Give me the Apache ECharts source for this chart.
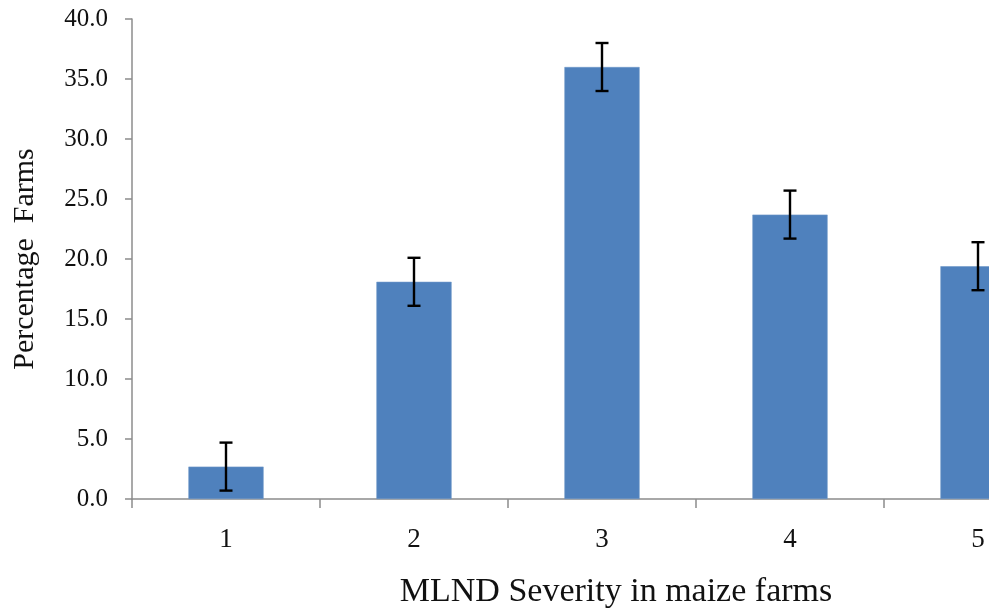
<!DOCTYPE html>
<html>
<head>
<meta charset="utf-8">
<script src="https://cdn.jsdelivr.net/npm/echarts@6/dist/echarts.min.js"></script>
<style>
  html, body { margin: 0; padding: 0; background: #fff; overflow: hidden; width: 989px; height: 615px; }
  /* the canvas is wider than the page, so the last bar is cut off at the right edge */
  #chart { width: 1080px; height: 615px; }
</style>
</head>
<body>
<div id="chart"></div>
<script>
// MLND severity classes and share of farms in each (%)
const categories = ['1', '2', '3', '4', '5'];
const percentFarms = [2.7, 18.1, 36.0, 23.7, 19.4];
const errorMargin = [2.0, 2.0, 2.0, 2.0, 2.0];
const yTicks = { min: 0, max: 40, interval: 5 };

const serif = '"Liberation Serif", "Times New Roman", serif';
const axisGray = '#8c8c8c';

// [categoryIndex, low, high] for the error whiskers
const errorData = percentFarms.map((v, i) => [i, v - errorMargin[i], v + errorMargin[i]]);

const chart = echarts.init(document.getElementById('chart'));
chart.setOption({
  animation: false,
  backgroundColor: '#ffffff',
  grid: { left: 132, top: 19, bottom: 116, right: 8, containLabel: false },
  xAxis: {
    type: 'category',
    data: categories,
    name: 'MLND Severity in maize farms',
    nameLocation: 'middle',
    nameGap: 76,
    nameTextStyle: { fontFamily: serif, fontSize: 34, color: '#111', padding: [0, 0, 0, 28] },
    axisLine: { lineStyle: { color: axisGray, width: 1.5 } },
    axisTick: { show: true, length: 9, lineStyle: { color: axisGray, width: 1.5 } },
    axisLabel: { fontFamily: serif, fontSize: 27, color: '#111', margin: 27 }
  },
  yAxis: {
    type: 'value',
    min: yTicks.min,
    max: yTicks.max,
    interval: yTicks.interval,
    name: 'Percentage  Farms',
    nameLocation: 'middle',
    nameGap: 92,
    nameRotate: 90,
    nameTextStyle: { fontFamily: serif, fontSize: 30, color: '#111' },
    axisLine: { show: true, lineStyle: { color: axisGray, width: 1.5 } },
    axisTick: { show: true, length: 7, lineStyle: { color: axisGray, width: 1.5 } },
    splitLine: { show: false },
    axisLabel: {
      fontFamily: serif, fontSize: 25, color: '#111', margin: 24,
      formatter: v => v.toFixed(1)
    }
  },
  series: [
    {
      type: 'bar',
      data: percentFarms,
      barWidth: '40%',
      itemStyle: { color: '#4F81BD', borderColor: '#6f97c8', borderWidth: 0.6 }
    },
    {
      type: 'custom',
      data: errorData,
      z: 10,
      renderItem: (params, api) => {
        const idx = api.value(0);
        const lo = api.coord([idx, api.value(1)]);
        const hi = api.coord([idx, api.value(2)]);
        const half = 6.5;
        const style = { stroke: '#000', lineWidth: 2.4 };
        return {
          type: 'group',
          children: [
            { type: 'line', shape: { x1: hi[0], y1: hi[1], x2: lo[0], y2: lo[1] }, style },
            { type: 'line', shape: { x1: hi[0] - half, y1: hi[1], x2: hi[0] + half, y2: hi[1] }, style },
            { type: 'line', shape: { x1: lo[0] - half, y1: lo[1], x2: lo[0] + half, y2: lo[1] }, style }
          ]
        };
      }
    }
  ]
});
</script>
</body>
</html>
